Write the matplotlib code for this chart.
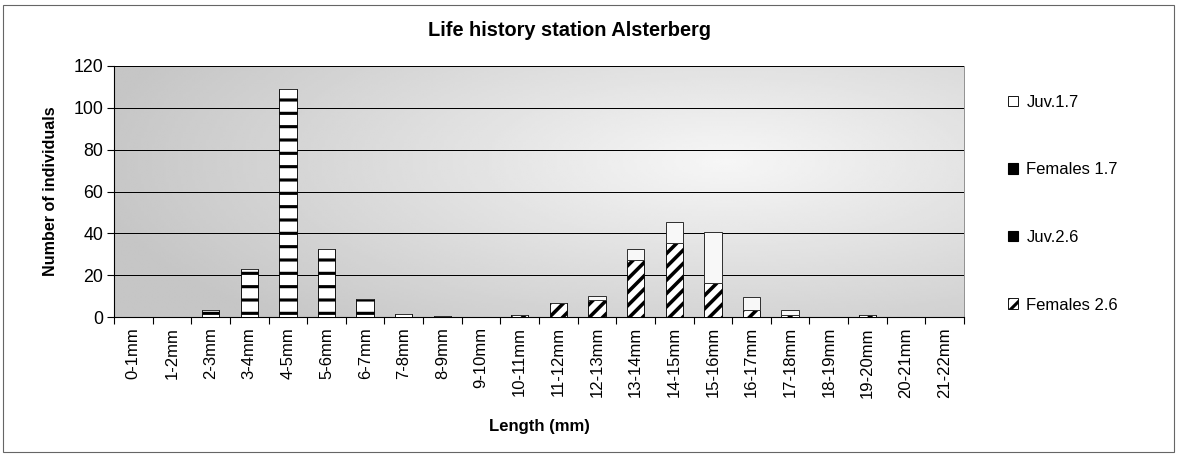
"""
Life history station Alsterberg: stacked length distribution (Excel style).
"""

import numpy as np
import matplotlib.pyplot as plt
from matplotlib.patches import Patch, Rectangle

plt.rcParams["font.family"] = ["Liberation Sans", "DejaVu Sans"]

categories = ["0-1mm", "1-2mm", "2-3mm", "3-4mm", "4-5mm", "5-6mm", "6-7mm",
              "7-8mm", "8-9mm", "9-10mm", "10-11mm", "11-12mm", "12-13mm",
              "13-14mm", "14-15mm", "15-16mm", "16-17mm", "17-18mm",
              "18-19mm", "19-20mm", "20-21mm", "21-22mm"]

females_26 = [0, 0, 0, 0, 0, 0, 0, 0, 0, 0, 1, 6.5, 8, 27.4, 35.6, 16.3,
              3.2, 0.8, 0, 1, 0, 0]
juv_26 = [0, 0, 3.5, 23, 109, 32.5, 8.5, 1.5, 0.5, 0, 0, 0, 0, 0, 0, 0,
          0, 0, 0, 0, 0, 0]
females_17 = [0] * 22
juv_17 = [0, 0, 0, 0, 0, 0, 0, 0, 0, 0, 0, 0, 2, 5.1, 9.9, 24.4, 6.4,
          2.4, 0, 0, 0, 0]

DPI = 80
W, H = 1177, 457


def radial_background(ax):
    gx, gy = np.meshgrid(np.linspace(0, 1, 300), np.linspace(0, 1, 120))
    r = np.sqrt(((gx - 0.72) / 0.75) ** 2 + ((gy - 0.62) / 0.9) ** 2)
    r = np.clip(r, 0, 1)
    shade = 0.965 - 0.19 * r
    ax.imshow(shade, cmap="gray", vmin=0, vmax=1, origin="lower",
              extent=[0, 1, 0, 1], transform=ax.transAxes, aspect="auto",
              zorder=0, interpolation="bilinear")


def set_hlw(bars, lw):
    for p in bars:
        if hasattr(p, "set_hatch_linewidth"):
            p.set_hatch_linewidth(lw)


fig = plt.figure(figsize=(W / DPI, H / DPI), dpi=DPI)
ax = fig.add_axes([114 / W, (H - 317) / H, 850 / W, 251 / H])
radial_background(ax)

x = np.arange(len(categories))
width = 0.45

plt.rcParams["hatch.linewidth"] = 3.2
b1 = ax.bar(x, females_26, width, facecolor="white", edgecolor="black",
            hatch="//", linewidth=0.8, zorder=3)
set_hlw(b1, 3.2)
base = np.array(females_26)

plt.rcParams["hatch.linewidth"] = 2.8
b2 = ax.bar(x, juv_26, width, bottom=base, facecolor="white",
            edgecolor="black", hatch="-", linewidth=0.8, zorder=3)
set_hlw(b2, 2.8)
base = base + np.array(juv_26)

b3 = ax.bar(x, females_17, width, bottom=base, facecolor="white",
            edgecolor="black", hatch="-", linewidth=0.8, zorder=3)
set_hlw(b3, 2.8)
base = base + np.array(females_17)

b4 = ax.bar(x, juv_17, width, bottom=base, facecolor="#f8f8f8",
            edgecolor="#333333", linewidth=0.9, zorder=3)

ax.set_xlim(-0.5, len(categories) - 0.5)
ax.set_ylim(0, 120)
ax.set_yticks(np.arange(0, 121, 20))
ax.grid(axis="y", color="black", linewidth=0.9, zorder=1)
ax.set_axisbelow(True)

ax.set_xticks(x)
ax.set_xticklabels(categories, rotation=90, fontsize=15)
ax.tick_params(axis="x", which="major", length=0, pad=9)
ax.set_xticks(np.arange(-0.5, len(categories), 1), minor=True)
ax.tick_params(axis="x", which="minor", length=6, width=1, direction="out")
ax.tick_params(axis="y", labelsize=16, length=6, width=1, direction="out")

ax.spines["top"].set_visible(False)
ax.spines["right"].set_color("#888888")
ax.spines["left"].set_linewidth(1)
ax.spines["bottom"].set_linewidth(1)

ax.set_ylabel("Number of individuals", fontsize=14.5, fontweight="bold",
              labelpad=14)
ax.set_xlabel("Length (mm)", fontsize=15, fontweight="bold", labelpad=19)

fig.text(570 / W, 1 - 30 / H, "Life history station Alsterberg",
         ha="center", va="center", fontsize=18, fontweight="bold",
         family=["Liberation Sans Narrow", "Liberation Sans"])

handles = [
    Patch(facecolor="white", edgecolor="black", linewidth=0.8),
    Patch(facecolor="black", edgecolor="black"),
    Patch(facecolor="black", edgecolor="black"),
    Patch(facecolor="white", edgecolor="black", hatch="//", linewidth=0.8),
]
labels = ["Juv.1.7", "Females 1.7", "Juv.2.6", "Females 2.6"]
fig.legend(handles, labels, loc="upper left",
           bbox_to_anchor=(993 / W, 1 - 80 / H), frameon=False,
           fontsize=15, handlelength=0.6, handleheight=0.6,
           handletextpad=0.5, labelspacing=3.15)

fig.add_artist(Rectangle((3 / W, 5 / H), (W - 6) / W, (H - 10) / H,
                         transform=fig.transFigure, fill=False,
                         edgecolor="#666666", linewidth=1))

fig.savefig("out.png", dpi=DPI)
